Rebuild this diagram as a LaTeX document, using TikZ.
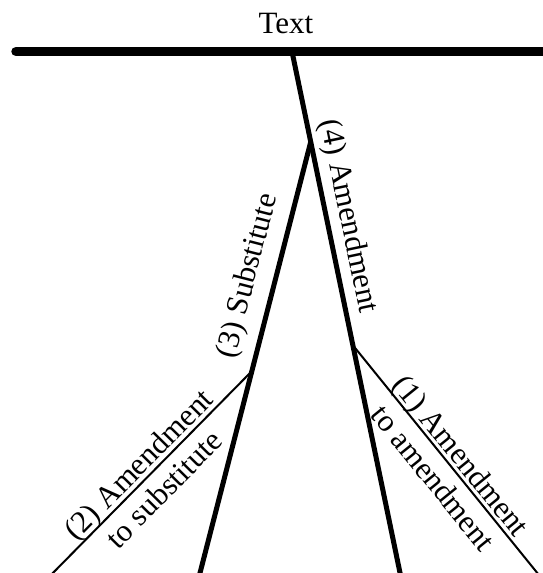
\documentclass[tikz,border=0pt]{standalone}
\usepackage{fontspec}
\setmainfont{Liberation Serif}
\begin{document}
\begin{tikzpicture}[x=1pt,y=-1pt,
  bar/.style={line width=9.5pt,line cap=round},
  mainline/.style={line width=5pt},
  subline/.style={line width=2pt},
  lbl/.style={font=\fontsize{31}{36}\selectfont,inner sep=0pt,align=center}]
\useasboundingbox (0,0) rectangle (543,573);
\clip (0,0) rectangle (543,573);

% junction points and free ends
\coordinate (barL) at (16,51.5);
\coordinate (barR) at (560,51.5);
\coordinate (root) at (292,51.5);
\coordinate (J3) at (310.7,142);
\coordinate (J1) at (352.7,345);
\coordinate (J2) at (251,372);
\coordinate (end4) at (401.5,580);
\coordinate (end3) at (198.2,580);
\coordinate (end2) at (46,580);
\coordinate (end1) at (543,580);

% the text bar and the branches
\draw[bar] (barL) -- (barR);
\draw[mainline] (root) -- (end4);
\draw[mainline] (J3) -- (end3);
\draw[subline] (J2) -- (end2);
\draw[subline] (J1) -- (end1);

% labels
\node[lbl,anchor=base] (title) at (286,33) {Text};
\node[lbl,rotate=-78.2] (amend) at (347.5,216) {(4) Amendment};
\node[lbl,rotate=75.6] (subst) at (248.5,276) {(3) Substitute};
\node[lbl,rotate=45.4] (amsub) at (151,476.5) {(2) Amendment\\to substitute};
\node[lbl,rotate=-51] (amam) at (447.5,466.5) {(1) Amendment\\to amendment};
\end{tikzpicture}
\end{document}
